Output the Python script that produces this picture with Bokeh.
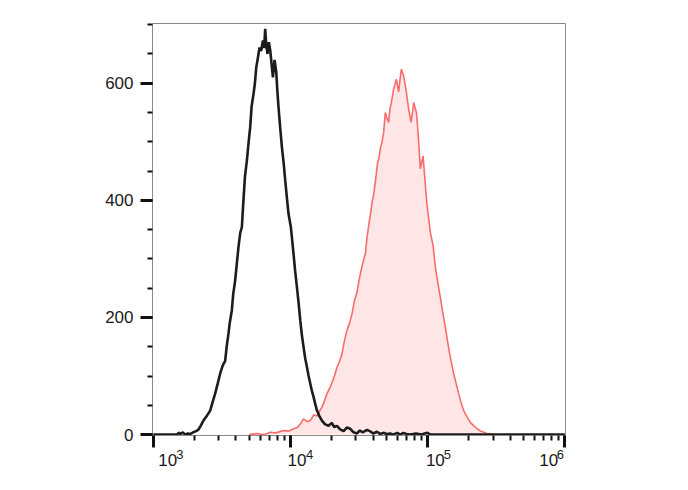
from bokeh.plotting import figure
from bokeh.models import (Range1d, SingleIntervalTicker, LogTicker, FixedTicker, ColumnDataSource,
                          CustomJSTickFormatter, LogAxis)
from bokeh.embed import file_html
from bokeh.resources import INLINE

# ---- control (unstained) histogram: intensity, counts ----
ctrl_x = [1000, 1300, 1480, 1540, 1580, 1640, 1700, 1780, 1850, 1950, 2050, 2118, 2200, 2317,
          2450, 2594, 2700, 2820, 2950, 3067, 3200, 3337, 3420, 3526, 3600, 3731, 3820, 3946,
          4050, 4172, 4300, 4415, 4550, 4650, 4805, 4950, 5080, 5200, 5373, 5500, 5623, 5750,
          5943, 6100, 6295, 6420, 6536, 6650, 6792, 6950, 7112, 7280, 7441, 7650, 7870, 8000,
          8175, 8400, 8650, 8900, 9146, 9400, 9667, 10060, 10515, 10800, 11134, 11450, 11776,
          12100, 12452, 12800, 13183, 13550, 13937, 14300, 14735, 15150, 15596, 16200, 16950,
          17800, 18933, 20000, 20800, 21815, 23000, 24380, 25700, 27290, 28800, 30530, 32000,
          33500, 36130, 38500, 40000, 42750, 45000, 48000, 50000, 53460, 56000, 60000, 63000,
          66510, 70000, 75000, 82000, 90000, 99540, 105000, 1000000]
ctrl_y = [0, 0, 0, 3, 1, 4, 0, 2, 1, 4, 6, 8, 14, 24,
          32, 41, 55, 70, 88, 104, 118, 126, 150, 172, 190, 212, 240, 263,
          290, 320, 345, 354, 405, 440, 468, 500, 525, 560, 582, 600, 627, 640,
          661, 655, 673, 660, 693, 665, 650, 670, 656, 632, 610, 640, 619, 590,
          559, 525, 491, 465, 434, 405, 377, 354, 309, 280, 252, 225, 195,
          170, 149, 130, 115, 100, 87, 75, 64, 52, 41, 32, 24,
          18, 15, 20, 13, 15, 9, 6, 12, 10, 4, 2, 7,
          4, 8, 5, 2, 5, 1, 3, 1, 2, 0, 3, 0,
          3, 1, 0, 2, 0, 3, 0, 0]

# ---- stained sample histogram: intensity, counts ----
stain_x = [5000, 5690, 6200, 6600, 7112, 7800, 8892, 9700, 10515, 11200, 11776, 12452, 13200,
           13937, 14800, 15596, 16300, 16950, 17700, 18450, 19200, 20060, 20900, 21815, 22700,
           23730, 24700, 25810, 26900, 28070, 29200, 30530, 31500, 32660, 34510, 35200, 36130,
           37760, 38500, 39300, 40400, 41520, 43150, 44000, 45150, 46500, 47760, 49110, 50500,
           51910, 53000, 54340, 56450, 57800, 59120, 61440, 62800, 64270, 66780, 68200, 69940,
           71300, 72660, 75640, 77300, 79070, 82740, 84500, 85980, 88460, 92560, 95020, 97000,
           99070, 104700, 109500, 113800, 118500, 123800, 129000, 134700, 139500, 144800,
           149800, 154900, 161000, 168400, 175000, 183200, 194000, 205000, 217000, 229500,
           243000, 256500, 271000, 287300, 300000]
stain_y = [0, 2, 0, 1, 4, 3, 7, 6, 10, 12, 18, 27, 22,
           24, 34, 32, 40, 47, 58, 70, 78, 89, 100, 115, 124,
           138, 160, 178, 190, 206, 228, 243, 262, 280, 303, 310, 337,
           368, 380, 397, 410, 431, 465, 470, 488, 500, 516, 550, 540,
           533, 555, 567, 590, 598, 607, 585, 605, 624, 613, 600, 585,
           570, 556, 533, 548, 567, 550, 525, 499, 454, 476, 442, 415,
           391, 345, 323, 286, 260, 234, 208, 183, 160, 138,
           120, 104, 88, 70, 55, 41, 30, 21, 15, 10,
           6, 4, 2, 1, 0]

# x tick labels: base "10" and exponents 3..6
x_label_base = "10"
x_label_exponents = ["3", "4", "5", "6"]
# layout: where the label parts sit (outer labels pulled inside the frame)
base_pos = [1270, 11135, 113800, 764000]
expo_pos = [1560, 13800, 139000, 930000]

p = figure(width=660, height=482, x_axis_type="log",
           x_range=Range1d(985, 1.012e6), y_range=Range1d(-1.5, 702),
           output_backend="svg", toolbar_location=None,
           min_border_left=152, min_border_right=95, min_border_top=23, min_border_bottom=47)

p.background_fill_color = "white"
p.border_fill_color = "white"
p.outline_line_color = "#8a8a8a"
p.outline_line_width = 1
p.grid.visible = False

stain = ColumnDataSource(dict(x=stain_x, y=stain_y))
ctrl = ColumnDataSource(dict(x=ctrl_x, y=ctrl_y))
p.varea(x="x", y1=0, y2="y", source=stain, fill_color="#ffe6e6")
p.line(x="x", y="y", source=stain, line_color="#f86c6c", line_width=1.6)
p.line(x="x", y="y", source=ctrl, line_color="#1c1c1c", line_width=2.6)

# axes
ya = p.yaxis[0]
ya.ticker = SingleIntervalTicker(interval=200, num_minor_ticks=4)
xa = p.xaxis[0]
xa.ticker = LogTicker(num_minor_ticks=10)
for ax in (xa, ya):
    ax.axis_line_color = "#8a8a8a"
    ax.axis_line_width = 1
    ax.major_tick_line_color = "#111111"
    ax.major_tick_line_width = 3
    ax.major_tick_out = 12
    ax.major_tick_in = 0
    ax.minor_tick_line_color = "#111111"
    ax.minor_tick_line_width = 2
    ax.minor_tick_out = 5
    ax.minor_tick_in = 0
    ax.major_label_text_font = "Liberation Sans"
    ax.major_label_text_font_size = "17px"
    ax.major_label_text_color = "#1a1a1a"
ya.major_label_standoff = 7
xa.formatter = CustomJSTickFormatter(code="return ''")
xa.major_label_text_font_size = "1px"
xa.major_label_standoff = 0


def label_axis(positions, formatter, size, standoff):
    ax = LogAxis(ticker=FixedTicker(ticks=positions, minor_ticks=[]), formatter=formatter)
    ax.axis_line_color = None
    ax.major_tick_line_color = None
    ax.major_tick_out = 0
    ax.major_tick_in = 0
    ax.minor_tick_line_color = None
    ax.minor_tick_out = 0
    ax.major_label_standoff = standoff
    ax.major_label_text_font = "Liberation Sans"
    ax.major_label_text_font_size = size
    ax.major_label_text_color = "#1a1a1a"
    return ax


expo_axis = label_axis(expo_pos,
                       CustomJSTickFormatter(args=dict(labs=x_label_exponents),
                                             code="return labs[Math.round(Math.log10(tick)) - 3]"),
                       "13px", 2)
base_axis = label_axis(base_pos,
                       CustomJSTickFormatter(args=dict(base=x_label_base), code="return base"),
                       "17px", -8)
p.add_layout(expo_axis, "below")
p.add_layout(base_axis, "below")

open("out.html", "w").write(file_html(p, INLINE))
